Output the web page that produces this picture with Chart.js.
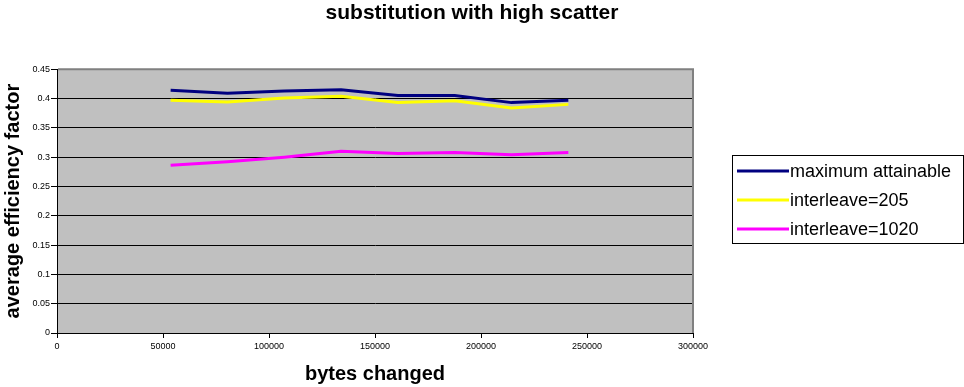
<!DOCTYPE html>
<html>
<head>
<meta charset="utf-8">
<title>substitution with high scatter</title>
<script src="https://cdn.jsdelivr.net/npm/chart.js@4.4.1/dist/chart.umd.min.js"></script>
<style>
  html, body { margin: 0; padding: 0; background: #ffffff; }
  #wrap { width: 964px; height: 387px; position: relative; }
</style>
</head>
<body>
<div id="wrap"><canvas id="chart" width="964" height="387"></canvas></div>
<script>
// Measurements: bytes changed vs. average efficiency factor
const bytesChanged = [53600, 80400, 107200, 134000, 160800, 187600, 214400, 241200];
const maxAttainable = [0.414, 0.409, 0.413, 0.415, 0.405, 0.405, 0.393, 0.397];
const interleave205 = [0.397, 0.394, 0.401, 0.404, 0.393, 0.396, 0.384, 0.390];
const interleave1020 = [0.286, 0.292, 0.300, 0.310, 0.306, 0.308, 0.304, 0.308];

const seriesLabels = ['maximum attainable', 'interleave=205', 'interleave=1020'];
const xTickLabels = ['0', '50000', '100000', '150000', '200000', '250000', '300000'];
const yTickLabels = ['0', '0.05', '0.1', '0.15', '0.2', '0.25', '0.3', '0.35', '0.4', '0.45'];

const FONT = "Arial, 'Liberation Sans', sans-serif";

function points(values) {
  return values.map((v, i) => ({ x: bytesChanged[i], y: v }));
}

// Grey plot background plus the grey top/right frame
const plotFrame = {
  id: 'plotFrame',
  beforeDraw(chart) {
    const a = chart.chartArea, ctx = chart.ctx;
    ctx.save();
    ctx.fillStyle = '#c0c0c0';
    ctx.fillRect(a.left, a.top, a.right - a.left, a.bottom - a.top);
    ctx.restore();
  },
  afterDatasetsDraw(chart) {
    const a = chart.chartArea, ctx = chart.ctx;
    ctx.save();
    ctx.strokeStyle = '#808080';
    ctx.lineWidth = 2;
    ctx.beginPath();
    ctx.moveTo(a.left + 1, a.top);
    ctx.lineTo(a.right, a.top);
    ctx.lineTo(a.right, a.bottom);
    ctx.stroke();
    ctx.restore();
  }
};

// Boxed legend to the right of the plot
const boxLegend = {
  id: 'boxLegend',
  afterDraw(chart) {
    const ctx = chart.ctx;
    const box = { x: 732.5, y: 155.5, w: 231, h: 88 };
    ctx.save();
    ctx.strokeStyle = '#000000';
    ctx.lineWidth = 1;
    ctx.strokeRect(box.x, box.y, box.w, box.h);
    ctx.font = '18px ' + FONT;
    ctx.textBaseline = 'middle';
    ctx.textAlign = 'left';
    chart.data.datasets.forEach((ds, i) => {
      const y = 171 + i * 29;
      ctx.strokeStyle = ds.borderColor;
      ctx.lineWidth = 3;
      ctx.beginPath();
      ctx.moveTo(737, y);
      ctx.lineTo(789, y);
      ctx.stroke();
      ctx.fillStyle = '#000000';
      ctx.fillText(ds.label, 790, y + 1);
    });
    ctx.restore();
  }
};

new Chart(document.getElementById('chart'), {
  type: 'line',
  data: {
    datasets: [
      { label: seriesLabels[0], data: points(maxAttainable), borderColor: '#000080' },
      { label: seriesLabels[1], data: points(interleave205), borderColor: '#ffff00' },
      { label: seriesLabels[2], data: points(interleave1020), borderColor: '#ff00ff' }
    ]
  },
  options: {
    responsive: false,
    animation: false,
    devicePixelRatio: 1,
    layout: { padding: { left: 0, right: 20, top: 0, bottom: 0 } },
    elements: {
      line: { borderWidth: 3, tension: 0, fill: false },
      point: { radius: 0, hoverRadius: 0 }
    },
    plugins: {
      legend: { display: false },
      tooltip: { enabled: false },
      title: {
        display: true,
        text: 'substitution with high scatter',
        color: '#000000',
        font: { family: FONT, size: 21, weight: 'bold' },
        padding: { top: 1, bottom: 43 }
      }
    },
    scales: {
      x: {
        type: 'linear',
        min: 0,
        max: 300000,
        afterFit(scale) { scale.height = 54; },
        ticks: {
          stepSize: 50000,
          maxRotation: 0,
          autoSkip: false,
          padding: 3,
          color: '#000000',
          font: { family: FONT, size: 9 },
          callback: (v, i) => xTickLabels[i]
        },
        grid: { drawOnChartArea: false, drawTicks: true, tickLength: 5, color: '#000000' },
        border: { display: true, color: '#000000', width: 1 },
        title: {
          display: true,
          text: 'bytes changed',
          color: '#000000',
          font: { family: FONT, size: 20, weight: 'bold' },
          padding: { top: 0, bottom: 1 }
        }
      },
      y: {
        min: 0,
        max: 0.45,
        afterFit(scale) { scale.width = 57; },
        ticks: {
          stepSize: 0.05,
          autoSkip: false,
          padding: 1,
          color: '#000000',
          font: { family: FONT, size: 9 },
          callback: (v, i) => yTickLabels[i]
        },
        grid: { drawOnChartArea: true, drawTicks: true, tickLength: 6, color: '#000000', lineWidth: 1 },
        border: { display: true, color: '#000000', width: 1 },
        title: {
          display: true,
          text: 'average efficiency factor',
          color: '#000000',
          font: { family: FONT, size: 20, weight: 'bold' },
          padding: { top: 1, bottom: 0 }
        }
      },
      // empty right-hand band that holds the legend
      legendSpace: {
        type: 'linear',
        position: 'right',
        display: true,
        afterFit(scale) { scale.width = 251; },
        ticks: { display: false },
        grid: { display: false, drawTicks: false },
        border: { display: false },
        title: { display: false }
      }
    }
  },
  plugins: [plotFrame, boxLegend]
});
</script>
</body>
</html>
